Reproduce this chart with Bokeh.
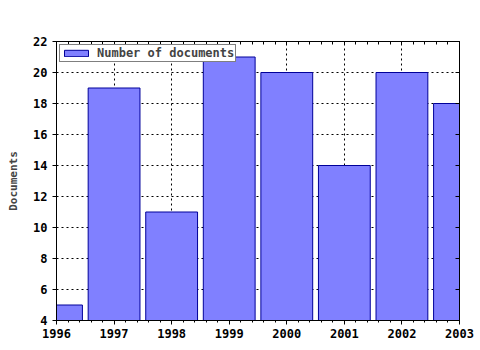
from bokeh.plotting import figure
from bokeh.models import Range1d, FixedTicker, LinearAxis, Legend, LegendItem, ColumnDataSource
from bokeh.embed import file_html
from bokeh.resources import INLINE

years = [1996, 1997, 1998, 1999, 2000, 2001, 2002, 2003]
documents = [5, 19, 11, 21, 20, 14, 20, 18]
y_ticks = [4, 6, 8, 10, 12, 14, 16, 18, 20, 22]
series_name = "Number of documents"

FONT = "DejaVu Sans Mono"

src = ColumnDataSource(dict(x=years, top=documents))

p = figure(width=480, height=350, output_backend="svg", toolbar_location=None,
           x_range=Range1d(years[0], years[-1]), y_range=Range1d(y_ticks[0], y_ticks[-1]),
           min_border_left=56, min_border_right=21, min_border_top=41, min_border_bottom=30)
p.background_fill_color = "white"
p.border_fill_color = "white"
p.outline_line_color = "black"

r = p.vbar(x="x", top="top", bottom=0, width=0.9, source=src,
           fill_color="#8080FF", line_color="#000099", line_width=1)

minor_x = [y + k * 0.2 for y in years[:-1] for k in range(1, 5)]
p.xaxis.ticker = FixedTicker(ticks=years, minor_ticks=minor_x)
p.yaxis.ticker = FixedTicker(ticks=y_ticks)

for ax in (p.xaxis[0], p.yaxis[0]):
    ax.major_label_text_font = FONT
    ax.major_label_text_font_style = "bold"
    ax.major_label_text_font_size = "12px"
    ax.major_label_text_color = "black"
    ax.axis_line_color = "black"
    ax.major_tick_line_color = "black"
    ax.minor_tick_line_color = "black"
    ax.major_tick_out = 4
    ax.major_tick_in = 0
    ax.minor_tick_out = 2
    ax.minor_tick_in = 0
p.yaxis.minor_tick_line_color = None
p.yaxis.axis_label = "Documents"
p.yaxis.axis_label_text_font = FONT
p.yaxis.axis_label_text_font_style = "bold"
p.yaxis.axis_label_text_font_size = "11px"
p.yaxis.axis_label_standoff = 10
p.xaxis.major_label_standoff = 4

# top and right edges: tick marks only (as minor ticks, so no labels are drawn)
top_ax = LinearAxis(ticker=FixedTicker(ticks=[], minor_ticks=years + minor_x),
                    minor_tick_in=3, minor_tick_out=0, minor_tick_line_color="black",
                    axis_line_color="black")
right_ax = LinearAxis(ticker=FixedTicker(ticks=[], minor_ticks=y_ticks),
                      minor_tick_in=4, minor_tick_out=0, minor_tick_line_color="black",
                      axis_line_color="black")
p.add_layout(top_ax, "above")
p.add_layout(right_ax, "right")

for g in (p.xgrid[0], p.ygrid[0]):
    g.grid_line_color = "black"
    g.grid_line_dash = "2 3"
    g.grid_line_alpha = 1.0
p.xgrid.ticker = FixedTicker(ticks=years)
p.ygrid.ticker = FixedTicker(ticks=y_ticks)

legend = Legend(items=[LegendItem(label=series_name, renderers=[r])],
                location="top_left", margin=3, padding=1, spacing=0,
                label_text_font=FONT, label_text_font_style="bold", label_text_font_size="12px",
                label_height=12, glyph_height=8, glyph_width=30, label_standoff=6,
                border_line_color="black", border_line_width=1,
                background_fill_color="white", background_fill_alpha=1.0)
p.add_layout(legend)

open("out.html", "w").write(file_html(p, INLINE))
